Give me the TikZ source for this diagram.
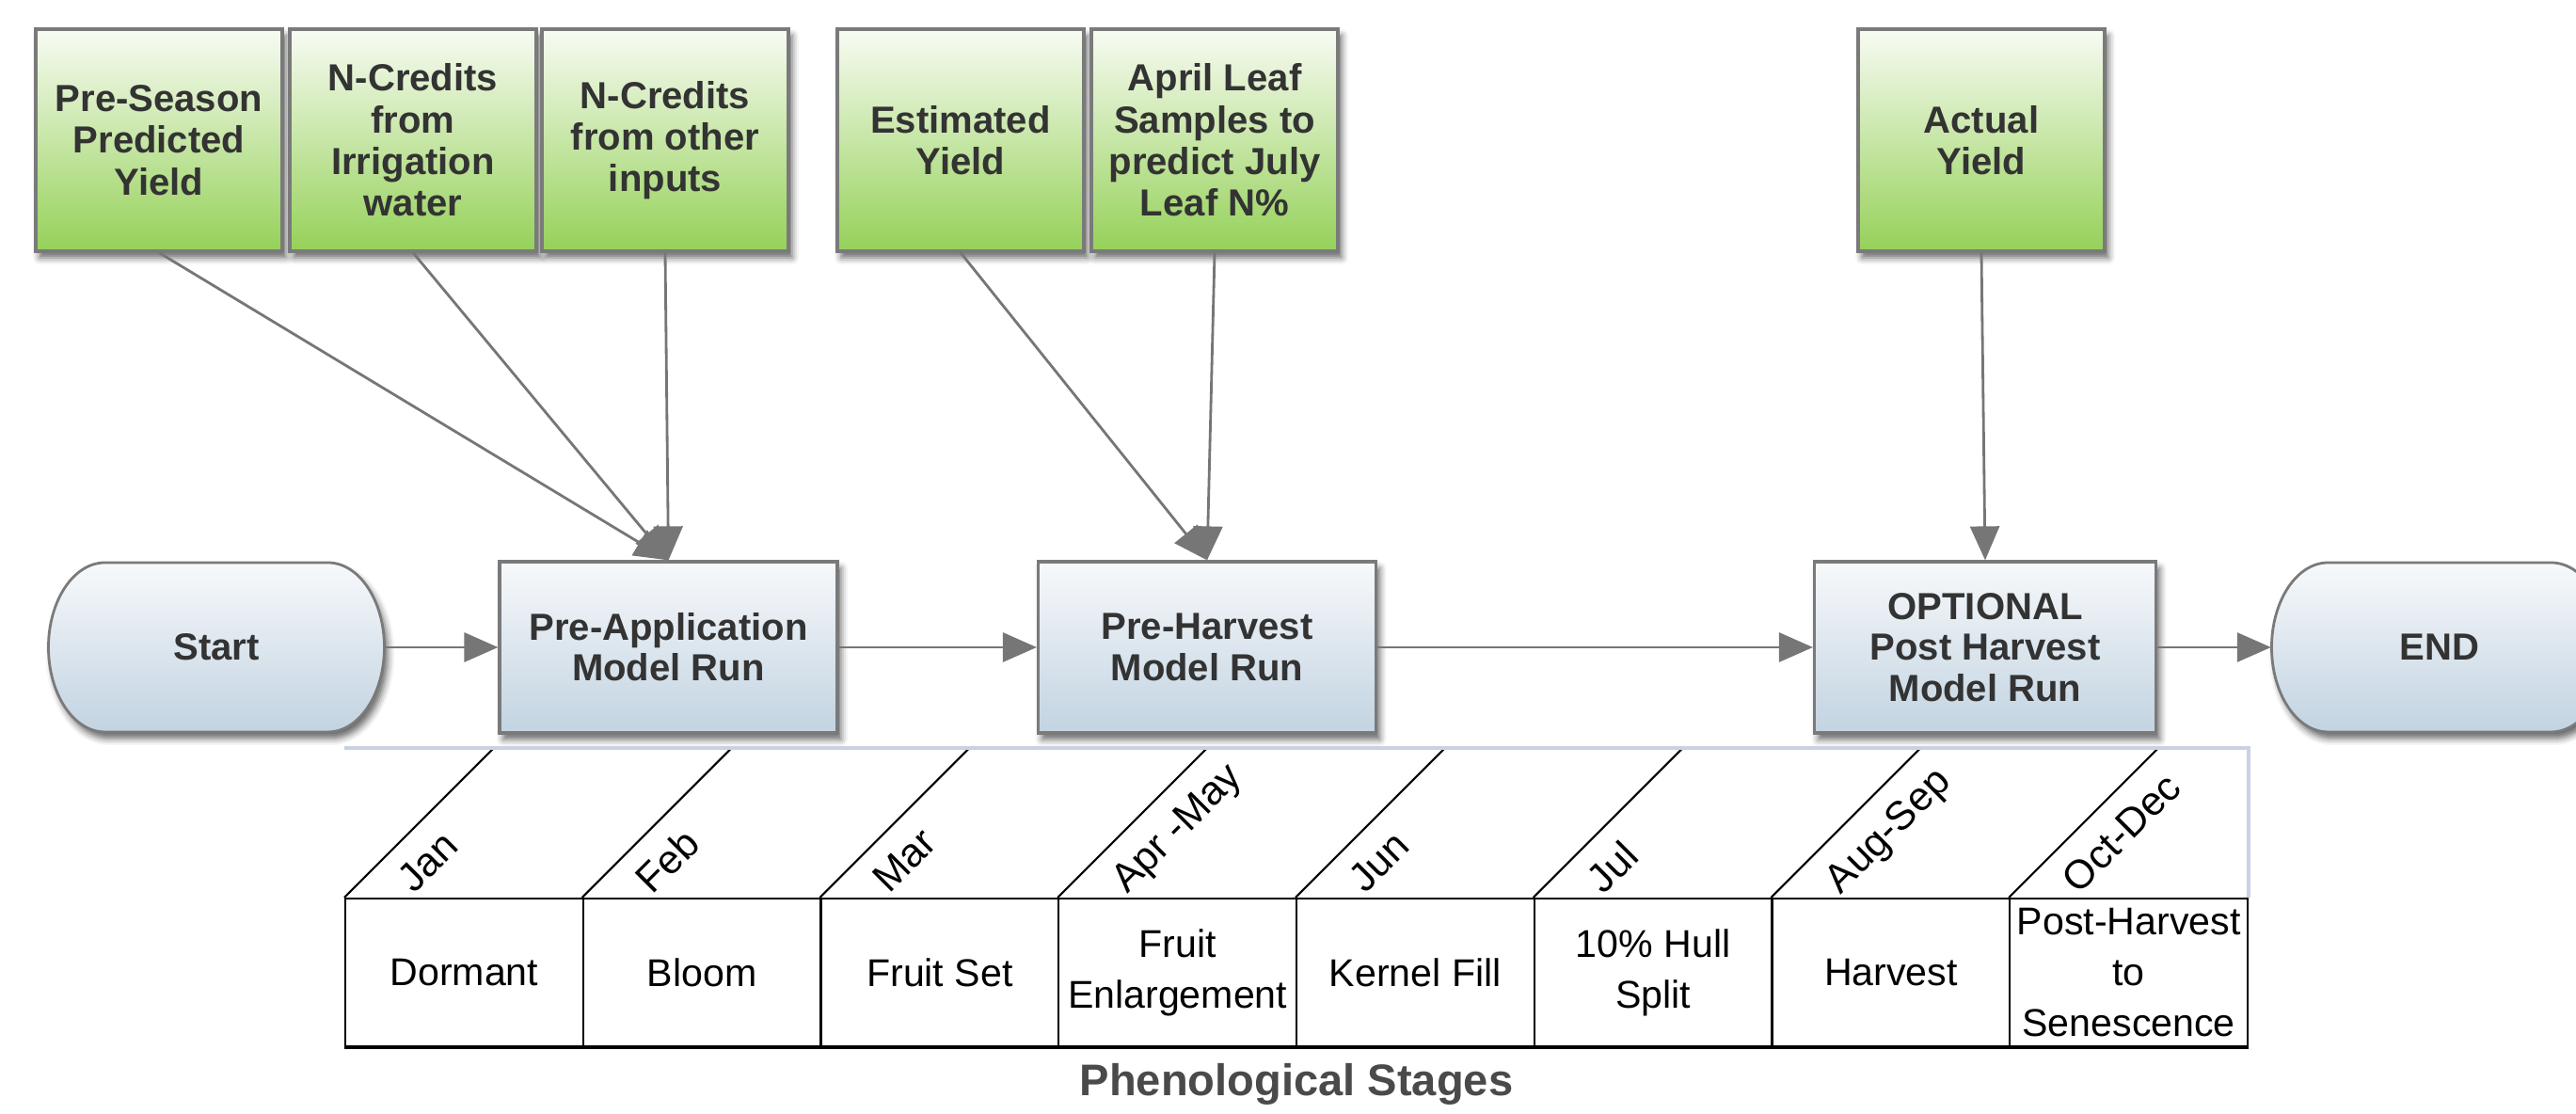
\documentclass[tikz,border=0pt]{standalone}
\usepackage{fontspec}
\setmainfont{Liberation Sans}
\usetikzlibrary{arrows.meta,calc,shadows.blur}
\definecolor{inputtop}{HTML}{F8FBF3}
\definecolor{inputbot}{HTML}{95D159}
\definecolor{runtop}{HTML}{F7F9FB}
\definecolor{runbot}{HTML}{C2D3E1}
\definecolor{edgegray}{HTML}{7A7A7A}
\definecolor{linkgray}{HTML}{767676}
\definecolor{textdark}{HTML}{333333}
\definecolor{headline}{HTML}{C8D2E2}
\definecolor{phengray}{HTML}{4A4A4A}
\newcommand{\terminal}[3]{
  \shade[termfill] ($(#2)+(-1.185,0.90)$) -- ++(2.37,0)
    arc[start angle=90,end angle=-90,x radius=0.6,y radius=0.90]
    -- ++(-2.37,0)
    arc[start angle=270,end angle=90,x radius=0.6,y radius=0.90] -- cycle;
  \node[termtext] (#1) at (#2) {#3};
}

\begin{document}
\begin{tikzpicture}[
  softshadow/.style={blur shadow={shadow xshift=0.04cm,shadow yshift=-0.07cm,shadow opacity=60,shadow blur radius=0.07cm}},
  inbox/.style={minimum width=2.62cm,minimum height=2.36cm,draw=edgegray,line width=0.9pt,
    top color=inputtop,bottom color=inputbot,align=center,text=textdark,softshadow,
    font=\bfseries\fontsize{11.4}{12.6}\selectfont},
  runbox/.style={minimum width=3.59cm,minimum height=1.82cm,draw=edgegray,line width=0.9pt,
    top color=runtop,bottom color=runbot,align=center,text=textdark,softshadow,
    font=\bfseries\fontsize{11.4}{12.3}\selectfont},
  termfill/.style={draw=edgegray,line width=0.8pt,top color=runtop,bottom color=runbot,softshadow},
  termtext/.style={minimum width=3.57cm,minimum height=1.80cm,inner sep=0pt,text=textdark,
    font=\bfseries\fontsize{11.4}{12.3}\selectfont},
  link/.style={draw=linkgray,line width=0.8pt,-{Triangle[length=0.36cm,width=0.31cm]}},
  stagebox/.style={minimum width=2.5275cm,minimum height=1.57cm,draw=black,line width=0.6pt,
    inner sep=0pt,align=center,font=\fontsize{11.7}{15.4}\selectfont},
  slant/.style={draw=black,line width=0.6pt},
  monthlabel/.style={rotate=45,anchor=north west,inner sep=0.08cm,
    font=\fontsize{12.2}{14}\selectfont}
]
\useasboundingbox (0,0) rectangle (27.38,11.84);
\clip (0,0) rectangle (27.38,11.84);

% inputs
\node[inbox] (preseason) at (1.69,10.35) {Pre-Season\\Predicted\\Yield};
\node[inbox] (irrigation) at (4.39,10.35) {N-Credits\\from\\Irrigation\\water};
\node[inbox] (otherinputs) at (7.07,10.35) {N-Credits\\from other\\inputs};
\node[inbox] (estyield) at (10.21,10.35) {Estimated\\Yield};
\node[inbox] (leafsample) at (12.91,10.35) {April Leaf\\Samples to\\predict July\\Leaf N\%};
\node[inbox] (actyield) at (21.06,10.35) {Actual\\Yield};

% model runs
\terminal{start}{2.30,4.96}{Start}
\node[runbox] (preapp) at (7.105,4.96) {Pre-Application\\Model Run};
\node[runbox] (preharv) at (12.83,4.96) {Pre-Harvest\\Model Run};
\node[runbox,minimum width=3.63cm] (postrun) at (21.10,4.96) {OPTIONAL\\Post Harvest\\Model Run};
\terminal{finish}{25.93,4.96}{END}

\draw[link] (preseason.south) -- (preapp.north);
\draw[link] (irrigation.south) -- (preapp.north);
\draw[link] (otherinputs.south) -- (preapp.north);
\draw[link] (estyield.south) -- (preharv.north);
\draw[link] (leafsample.south) -- (preharv.north);
\draw[link] (actyield.south) -- (postrun.north);
\draw[link] (start.east) -- (preapp.west);
\draw[link] (preapp.east) -- (preharv.west);
\draw[link] (preharv.east) -- (postrun.west);
\draw[link] (postrun.east) -- (finish.west);

% phenological stages
\foreach \i/\mon/\stage in {0/Jan/Dormant,1/Feb/Bloom,2/Mar/Fruit Set,3/{Apr -May}/{Fruit\\Enlargement},
    4/Jun/Kernel Fill,5/Jul/{10\% Hull\\Split},6/Aug-Sep/Harvest,7/Oct-Dec/{Post-Harvest\\to\\Senescence}}{
  \node[stagebox] (stage\i) at ({3.67+2.5275*\i+1.26375},1.505) {\stage};
  \draw[slant] (stage\i.north west) -- ++(1.59,1.59);
  \node[monthlabel] (month\i) at ($(stage\i.north west)+(0.41,0.24)$) {\mon};
}
\draw[draw=headline,line width=1pt] ($(stage0.north west)+(0,1.59)$) -- ($(stage7.north east)+(0,1.59)$) -- (stage7.north east);
\draw[line width=1.3pt] (stage0.south west) -- (stage7.south east);
\node[anchor=base,text=phengray,font=\bfseries\fontsize{13.4}{16}\selectfont] (phenlabel) at (13.78,0.19) {Phenological Stages};
\end{tikzpicture}
\end{document}
